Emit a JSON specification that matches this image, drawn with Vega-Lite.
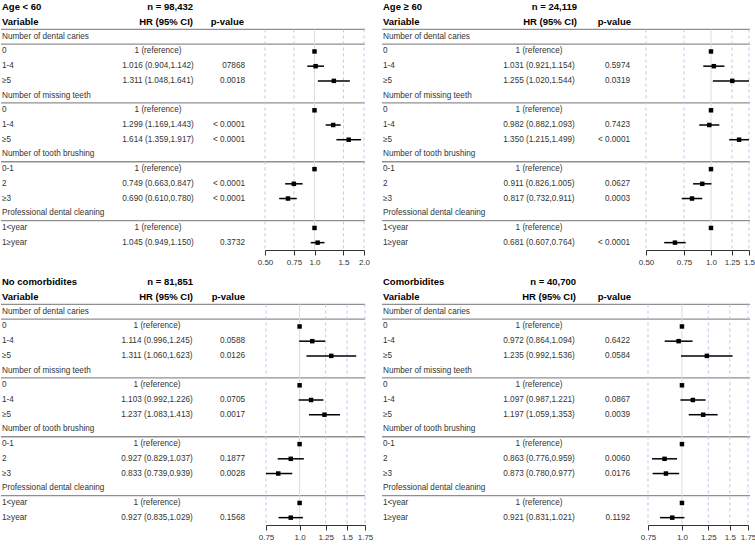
{
  "$schema": "https://vega.github.io/schema/vega-lite/v6.json",
  "padding": 0,
  "config": {"view": {"stroke": null}, "font": "Liberation Sans", "text": {"font": "Liberation Sans", "baseline": "middle"},
    "axis": {"grid": false, "domainColor": "#333", "tickColor": "#333", "tickSize": 5, "labelFontSize": 8, "labelColor": "#333", "labelPadding": 3, "title": null, "labelFlush": false, "labelOverlap": false, "labelFont": "Liberation Sans"}},
  "datasets": {
    "rows": [
      {"panel":"A","row":0,"kind":"title","label":"Age < 60","hr_head":"n = 98,432"},
      {"panel":"A","row":1,"kind":"header","label":"Variable","hr_head":"HR (95% CI)","p_text":"p-value"},
      {"panel":"A","row":2,"kind":"group","label":"Number of dental caries"},
      {"panel":"A","row":3,"kind":"ref","label":"0","hr_text":"1 (reference)","hr":1},
      {"panel":"A","row":4,"kind":"item","label":"1-4","hr_text":"1.016 (0.904,1.142)","p_text":"07868","hr":1.016,"lo":0.904,"hi":1.142},
      {"panel":"A","row":5,"kind":"item","label":"≥5","hr_text":"1.311 (1.048,1.641)","p_text":"0.0018","hr":1.311,"lo":1.048,"hi":1.641},
      {"panel":"A","row":6,"kind":"group","label":"Number of missing teeth"},
      {"panel":"A","row":7,"kind":"ref","label":"0","hr_text":"1 (reference)","hr":1},
      {"panel":"A","row":8,"kind":"item","label":"1-4","hr_text":"1.299 (1.169,1.443)","p_text":"< 0.0001","hr":1.299,"lo":1.169,"hi":1.443},
      {"panel":"A","row":9,"kind":"item","label":"≥5","hr_text":"1.614 (1.359,1.917)","p_text":"< 0.0001","hr":1.614,"lo":1.359,"hi":1.917},
      {"panel":"A","row":10,"kind":"group","label":"Number of tooth brushing"},
      {"panel":"A","row":11,"kind":"ref","label":"0-1","hr_text":"1 (reference)","hr":1},
      {"panel":"A","row":12,"kind":"item","label":"2","hr_text":"0.749 (0.663,0.847)","p_text":"< 0.0001","hr":0.749,"lo":0.663,"hi":0.847},
      {"panel":"A","row":13,"kind":"item","label":"≥3","hr_text":"0.690 (0.610,0.780)","p_text":"< 0.0001","hr":0.69,"lo":0.61,"hi":0.78},
      {"panel":"A","row":14,"kind":"group","label":"Professional dental cleaning"},
      {"panel":"A","row":15,"kind":"ref","label":"1<year","hr_text":"1 (reference)","hr":1},
      {"panel":"A","row":16,"kind":"item","label":"1≥year","hr_text":"1.045 (0.949,1.150)","p_text":"0.3732","hr":1.045,"lo":0.949,"hi":1.15},

      {"panel":"B","row":0,"kind":"title","label":"Age ≥ 60","hr_head":"n = 24,119"},
      {"panel":"B","row":1,"kind":"header","label":"Variable","hr_head":"HR (95% CI)","p_text":"p-value"},
      {"panel":"B","row":2,"kind":"group","label":"Number of dental caries"},
      {"panel":"B","row":3,"kind":"ref","label":"0","hr_text":"1 (reference)","hr":1},
      {"panel":"B","row":4,"kind":"item","label":"1-4","hr_text":"1.031 (0.921,1.154)","p_text":"0.5974","hr":1.031,"lo":0.921,"hi":1.154},
      {"panel":"B","row":5,"kind":"item","label":"≥5","hr_text":"1.255 (1.020,1.544)","p_text":"0.0319","hr":1.255,"lo":1.02,"hi":1.544},
      {"panel":"B","row":6,"kind":"group","label":"Number of missing teeth"},
      {"panel":"B","row":7,"kind":"ref","label":"0","hr_text":"1 (reference)","hr":1},
      {"panel":"B","row":8,"kind":"item","label":"1-4","hr_text":"0.982 (0.882,1.093)","p_text":"0.7423","hr":0.982,"lo":0.882,"hi":1.093},
      {"panel":"B","row":9,"kind":"item","label":"≥5","hr_text":"1.350 (1.215,1.499)","p_text":"< 0.0001","hr":1.35,"lo":1.215,"hi":1.499},
      {"panel":"B","row":10,"kind":"group","label":"Number of tooth brushing"},
      {"panel":"B","row":11,"kind":"ref","label":"0-1","hr_text":"1 (reference)","hr":1},
      {"panel":"B","row":12,"kind":"item","label":"2","hr_text":"0.911 (0.826,1.005)","p_text":"0.0627","hr":0.911,"lo":0.826,"hi":1.005},
      {"panel":"B","row":13,"kind":"item","label":"≥3","hr_text":"0.817 (0.732,0.911)","p_text":"0.0003","hr":0.817,"lo":0.732,"hi":0.911},
      {"panel":"B","row":14,"kind":"group","label":"Professional dental cleaning"},
      {"panel":"B","row":15,"kind":"ref","label":"1<year","hr_text":"1 (reference)","hr":1},
      {"panel":"B","row":16,"kind":"item","label":"1≥year","hr_text":"0.681 (0.607,0.764)","p_text":"< 0.0001","hr":0.681,"lo":0.607,"hi":0.764},

      {"panel":"C","row":0,"kind":"title","label":"No comorbidites","hr_head":"n = 81,851"},
      {"panel":"C","row":1,"kind":"header","label":"Variable","hr_head":"HR (95% CI)","p_text":"p-value"},
      {"panel":"C","row":2,"kind":"group","label":"Number of dental caries"},
      {"panel":"C","row":3,"kind":"ref","label":"0","hr_text":"1 (reference)","hr":1},
      {"panel":"C","row":4,"kind":"item","label":"1-4","hr_text":"1.114 (0.996,1.245)","p_text":"0.0588","hr":1.114,"lo":0.996,"hi":1.245},
      {"panel":"C","row":5,"kind":"item","label":"≥5","hr_text":"1.311 (1.060,1.623)","p_text":"0.0126","hr":1.311,"lo":1.06,"hi":1.623},
      {"panel":"C","row":6,"kind":"group","label":"Number of missing teeth"},
      {"panel":"C","row":7,"kind":"ref","label":"0","hr_text":"1 (reference)","hr":1},
      {"panel":"C","row":8,"kind":"item","label":"1-4","hr_text":"1.103 (0.992,1.226)","p_text":"0.0705","hr":1.103,"lo":0.992,"hi":1.226},
      {"panel":"C","row":9,"kind":"item","label":"≥5","hr_text":"1.237 (1.083,1.413)","p_text":"0.0017","hr":1.237,"lo":1.083,"hi":1.413},
      {"panel":"C","row":10,"kind":"group","label":"Number of tooth brushing"},
      {"panel":"C","row":11,"kind":"ref","label":"0-1","hr_text":"1 (reference)","hr":1},
      {"panel":"C","row":12,"kind":"item","label":"2","hr_text":"0.927 (0.829,1.037)","p_text":"0.1877","hr":0.927,"lo":0.829,"hi":1.037},
      {"panel":"C","row":13,"kind":"item","label":"≥3","hr_text":"0.833 (0.739,0.939)","p_text":"0.0028","hr":0.833,"lo":0.739,"hi":0.939},
      {"panel":"C","row":14,"kind":"group","label":"Professional dental cleaning"},
      {"panel":"C","row":15,"kind":"ref","label":"1<year","hr_text":"1 (reference)","hr":1},
      {"panel":"C","row":16,"kind":"item","label":"1≥year","hr_text":"0.927 (0.835,1.029)","p_text":"0.1568","hr":0.927,"lo":0.835,"hi":1.029},

      {"panel":"D","row":0,"kind":"title","label":"Comorbidites","hr_head":"n = 40,700"},
      {"panel":"D","row":1,"kind":"header","label":"Variable","hr_head":"HR (95% CI)","p_text":"p-value"},
      {"panel":"D","row":2,"kind":"group","label":"Number of dental caries"},
      {"panel":"D","row":3,"kind":"ref","label":"0","hr_text":"1 (reference)","hr":1},
      {"panel":"D","row":4,"kind":"item","label":"1-4","hr_text":"0.972 (0.864,1.094)","p_text":"0.6422","hr":0.972,"lo":0.864,"hi":1.094},
      {"panel":"D","row":5,"kind":"item","label":"≥5","hr_text":"1.235 (0.992,1.536)","p_text":"0.0584","hr":1.235,"lo":0.992,"hi":1.536},
      {"panel":"D","row":6,"kind":"group","label":"Number of missing teeth"},
      {"panel":"D","row":7,"kind":"ref","label":"0","hr_text":"1 (reference)","hr":1},
      {"panel":"D","row":8,"kind":"item","label":"1-4","hr_text":"1.097 (0.987,1.221)","p_text":"0.0867","hr":1.097,"lo":0.987,"hi":1.221},
      {"panel":"D","row":9,"kind":"item","label":"≥5","hr_text":"1.197 (1.059,1.353)","p_text":"0.0039","hr":1.197,"lo":1.059,"hi":1.353},
      {"panel":"D","row":10,"kind":"group","label":"Number of tooth brushing"},
      {"panel":"D","row":11,"kind":"ref","label":"0-1","hr_text":"1 (reference)","hr":1},
      {"panel":"D","row":12,"kind":"item","label":"2","hr_text":"0.863 (0.776,0.959)","p_text":"0.0060","hr":0.863,"lo":0.776,"hi":0.959},
      {"panel":"D","row":13,"kind":"item","label":"≥3","hr_text":"0.873 (0.780,0.977)","p_text":"0.0176","hr":0.873,"lo":0.78,"hi":0.977},
      {"panel":"D","row":14,"kind":"group","label":"Professional dental cleaning"},
      {"panel":"D","row":15,"kind":"ref","label":"1<year","hr_text":"1 (reference)","hr":1},
      {"panel":"D","row":16,"kind":"item","label":"1≥year","hr_text":"0.921 (0.831,1.021)","p_text":"0.1192","hr":0.921,"lo":0.831,"hi":1.021}
    ],
    "ticks": [
      {"panel":"A","tick":0.5},{"panel":"A","tick":0.75},{"panel":"A","tick":1},{"panel":"A","tick":1.5},{"panel":"A","tick":2},
      {"panel":"B","tick":0.5},{"panel":"B","tick":0.75},{"panel":"B","tick":1},{"panel":"B","tick":1.25},{"panel":"B","tick":1.5},
      {"panel":"C","tick":0.75},{"panel":"C","tick":1},{"panel":"C","tick":1.25},{"panel":"C","tick":1.5},{"panel":"C","tick":1.75},
      {"panel":"D","tick":0.75},{"panel":"D","tick":1},{"panel":"D","tick":1.25},{"panel":"D","tick":1.5},{"panel":"D","tick":1.75}
    ]
  },
  "columns": 2,
  "spacing": {"row": 25, "column": 17},
  "bounds": "flush",
  "concat": [
    {
      "width": 364, "height": 250,
      "data": {"name": "rows"},
      "transform": [{"filter": "datum.panel == 'A'"}],
      "encoding": {"y": {"field": "row", "type": "ordinal", "axis": null, "scale": {"type": "band", "paddingInner": 0, "paddingOuter": 0}}},
      "layer": [
        {"transform": [{"filter": "datum.kind == 'header' || datum.kind == 'group'"}],
         "mark": {"type": "rule", "color": "#8f8f8f", "strokeWidth": 1.3},
         "encoding": {"y": {"field": "row", "type": "ordinal", "bandPosition": 1}}},
        {"transform": [{"fold": ["label", "hr_head", "hr_text", "p_text"], "as": ["col", "txt"]}, {"filter": "isValid(datum.txt)"}],
         "layer": [
           {"transform": [{"filter": "datum.col == 'label' && (datum.kind == 'title' || datum.kind == 'header')"}],
            "mark": {"type": "text", "align": "left", "fontWeight": "bold", "fontSize": 9.5, "color": "#000"},
            "encoding": {"x": {"field": "col", "type": "nominal", "axis": null, "scale": {"type": "point", "domain": ["label"], "range": [1, 1]}}, "text": {"field": "txt"}}},
           {"transform": [{"filter": "datum.col != 'label' && (datum.kind == 'title' || datum.kind == 'header')"}],
            "mark": {"type": "text", "align": "right", "fontWeight": "bold", "fontSize": 9.5, "color": "#000"},
            "encoding": {"x": {"field": "col", "type": "nominal", "axis": null, "scale": {"type": "point", "domain": ["hr_head", "p_text"], "range": [192, 243], "padding": 0}}, "text": {"field": "txt"}}},
           {"transform": [{"filter": "datum.col == 'label' && datum.kind != 'title' && datum.kind != 'header'"}],
            "mark": {"type": "text", "align": "left", "fontSize": 8.2, "color": "#333"},
            "encoding": {"x": {"field": "col", "type": "nominal", "axis": null, "scale": {"type": "point", "domain": ["label"], "range": [1, 1]}}, "text": {"field": "txt"}}},
           {"transform": [{"filter": "datum.col == 'hr_text'"}],
            "mark": {"type": "text", "align": "center", "fontSize": 8.2, "color": "#333"},
            "encoding": {"x": {"field": "col", "type": "nominal", "axis": null, "scale": {"type": "point", "domain": ["hr_text"], "range": [157, 157]}}, "text": {"field": "txt"}}},
           {"transform": [{"filter": "datum.col == 'p_text' && datum.kind == 'item'"}],
            "mark": {"type": "text", "align": "right", "fontSize": 8.2, "color": "#333"},
            "encoding": {"x": {"field": "col", "type": "nominal", "axis": null, "scale": {"type": "point", "domain": ["p_text"], "range": [244, 244]}}, "text": {"field": "txt"}}}
         ],
         "resolve": {"scale": {"x": "independent"}}},
        {"layer": [
           {"data": {"name": "ticks"}, "transform": [{"filter": "datum.panel == 'A' && datum.tick != 1"}],
            "mark": {"type": "rule", "color": "#c4c4ee", "strokeDash": [3, 3], "strokeWidth": 1},
            "encoding": {
              "x": {"field": "tick", "type": "quantitative", "title": null,
                    "scale": {"type": "log", "domain": [0.5, 2], "range": [264, 363], "nice": false, "zero": false, "clamp": true},
                    "axis": {"values": [0.5, 0.75, 1, 1.5, 2], "labelExpr": "datum.value < 1 ? format(datum.value, '.2f') : ((datum.value * 4) % 2 == 0 ? format(datum.value, '.1f') : format(datum.value, '.2f'))"}},
              "y": {"datum": 2, "type": "ordinal", "bandPosition": 0},
              "y2": {"datum": 16, "bandPosition": 1}}},
           {"data": {"name": "ticks"}, "transform": [{"filter": "datum.panel == 'A' && datum.tick == 1"}],
            "mark": {"type": "rule", "color": "#dcdcdc", "strokeWidth": 1},
            "encoding": {"x": {"field": "tick", "type": "quantitative", "title": null},
              "y": {"datum": 2, "type": "ordinal", "bandPosition": 0},
              "y2": {"datum": 16, "bandPosition": 1}}},
           {"transform": [{"filter": "datum.kind == 'item'"}],
            "mark": {"type": "rule", "color": "#000", "strokeWidth": 1.5},
            "encoding": {"x": {"field": "lo", "type": "quantitative", "title": null}, "x2": {"field": "hi"}}},
           {"transform": [{"filter": "datum.kind == 'item' || datum.kind == 'ref'"}],
            "mark": {"type": "point", "shape": "square", "filled": true, "color": "#000", "opacity": 1, "size": 20},
            "encoding": {"x": {"field": "hr", "type": "quantitative", "title": null}}}
         ]}
      ],
      "resolve": {"scale": {"x": "independent"}}
    },
    {
      "width": 368, "height": 250,
      "data": {"name": "rows"},
      "transform": [{"filter": "datum.panel == 'B'"}],
      "encoding": {"y": {"field": "row", "type": "ordinal", "axis": null, "scale": {"type": "band", "paddingInner": 0, "paddingOuter": 0}}},
      "layer": [
        {"transform": [{"filter": "datum.kind == 'header' || datum.kind == 'group'"}],
         "mark": {"type": "rule", "color": "#8f8f8f", "strokeWidth": 1.3},
         "encoding": {"y": {"field": "row", "type": "ordinal", "bandPosition": 1}}},
        {"transform": [{"fold": ["label", "hr_head", "hr_text", "p_text"], "as": ["col", "txt"]}, {"filter": "isValid(datum.txt)"}],
         "layer": [
           {"transform": [{"filter": "datum.col == 'label' && (datum.kind == 'title' || datum.kind == 'header')"}],
            "mark": {"type": "text", "align": "left", "fontWeight": "bold", "fontSize": 9.5, "color": "#000"},
            "encoding": {"x": {"field": "col", "type": "nominal", "axis": null, "scale": {"type": "point", "domain": ["label"], "range": [1, 1]}}, "text": {"field": "txt"}}},
           {"transform": [{"filter": "datum.col != 'label' && (datum.kind == 'title' || datum.kind == 'header')"}],
            "mark": {"type": "text", "align": "right", "fontWeight": "bold", "fontSize": 9.5, "color": "#000"},
            "encoding": {"x": {"field": "col", "type": "nominal", "axis": null, "scale": {"type": "point", "domain": ["hr_head", "p_text"], "range": [195, 249], "padding": 0}}, "text": {"field": "txt"}}},
           {"transform": [{"filter": "datum.col == 'label' && datum.kind != 'title' && datum.kind != 'header'"}],
            "mark": {"type": "text", "align": "left", "fontSize": 8.2, "color": "#333"},
            "encoding": {"x": {"field": "col", "type": "nominal", "axis": null, "scale": {"type": "point", "domain": ["label"], "range": [1, 1]}}, "text": {"field": "txt"}}},
           {"transform": [{"filter": "datum.col == 'hr_text'"}],
            "mark": {"type": "text", "align": "center", "fontSize": 8.2, "color": "#333"},
            "encoding": {"x": {"field": "col", "type": "nominal", "axis": null, "scale": {"type": "point", "domain": ["hr_text"], "range": [157, 157]}}, "text": {"field": "txt"}}},
           {"transform": [{"filter": "datum.col == 'p_text' && datum.kind == 'item'"}],
            "mark": {"type": "text", "align": "right", "fontSize": 8.2, "color": "#333"},
            "encoding": {"x": {"field": "col", "type": "nominal", "axis": null, "scale": {"type": "point", "domain": ["p_text"], "range": [248, 248]}}, "text": {"field": "txt"}}}
         ],
         "resolve": {"scale": {"x": "independent"}}},
        {"layer": [
           {"data": {"name": "ticks"}, "transform": [{"filter": "datum.panel == 'B' && datum.tick != 1"}],
            "mark": {"type": "rule", "color": "#c4c4ee", "strokeDash": [3, 3], "strokeWidth": 1},
            "encoding": {
              "x": {"field": "tick", "type": "quantitative", "title": null,
                    "scale": {"type": "log", "domain": [0.5, 1.5], "range": [264, 367], "nice": false, "zero": false, "clamp": true},
                    "axis": {"values": [0.5, 0.75, 1, 1.25, 1.5], "labelExpr": "datum.value < 1 ? format(datum.value, '.2f') : ((datum.value * 4) % 2 == 0 ? format(datum.value, '.1f') : format(datum.value, '.2f'))"}},
              "y": {"datum": 2, "type": "ordinal", "bandPosition": 0},
              "y2": {"datum": 16, "bandPosition": 1}}},
           {"data": {"name": "ticks"}, "transform": [{"filter": "datum.panel == 'B' && datum.tick == 1"}],
            "mark": {"type": "rule", "color": "#dcdcdc", "strokeWidth": 1},
            "encoding": {"x": {"field": "tick", "type": "quantitative", "title": null},
              "y": {"datum": 2, "type": "ordinal", "bandPosition": 0},
              "y2": {"datum": 16, "bandPosition": 1}}},
           {"transform": [{"filter": "datum.kind == 'item'"}],
            "mark": {"type": "rule", "color": "#000", "strokeWidth": 1.5},
            "encoding": {"x": {"field": "lo", "type": "quantitative", "title": null}, "x2": {"field": "hi"}}},
           {"transform": [{"filter": "datum.kind == 'item' || datum.kind == 'ref'"}],
            "mark": {"type": "point", "shape": "square", "filled": true, "color": "#000", "opacity": 1, "size": 20},
            "encoding": {"x": {"field": "hr", "type": "quantitative", "title": null}}}
         ]}
      ],
      "resolve": {"scale": {"x": "independent"}}
    },
    {
      "width": 364, "height": 250,
      "data": {"name": "rows"},
      "transform": [{"filter": "datum.panel == 'C'"}],
      "encoding": {"y": {"field": "row", "type": "ordinal", "axis": null, "scale": {"type": "band", "paddingInner": 0, "paddingOuter": 0}}},
      "layer": [
        {"transform": [{"filter": "datum.kind == 'header' || datum.kind == 'group'"}],
         "mark": {"type": "rule", "color": "#8f8f8f", "strokeWidth": 1.3},
         "encoding": {"y": {"field": "row", "type": "ordinal", "bandPosition": 1}}},
        {"transform": [{"fold": ["label", "hr_head", "hr_text", "p_text"], "as": ["col", "txt"]}, {"filter": "isValid(datum.txt)"}],
         "layer": [
           {"transform": [{"filter": "datum.col == 'label' && (datum.kind == 'title' || datum.kind == 'header')"}],
            "mark": {"type": "text", "align": "left", "fontWeight": "bold", "fontSize": 9.5, "color": "#000"},
            "encoding": {"x": {"field": "col", "type": "nominal", "axis": null, "scale": {"type": "point", "domain": ["label"], "range": [1, 1]}}, "text": {"field": "txt"}}},
           {"transform": [{"filter": "datum.col != 'label' && (datum.kind == 'title' || datum.kind == 'header')"}],
            "mark": {"type": "text", "align": "right", "fontWeight": "bold", "fontSize": 9.5, "color": "#000"},
            "encoding": {"x": {"field": "col", "type": "nominal", "axis": null, "scale": {"type": "point", "domain": ["hr_head", "p_text"], "range": [192, 244], "padding": 0}}, "text": {"field": "txt"}}},
           {"transform": [{"filter": "datum.col == 'label' && datum.kind != 'title' && datum.kind != 'header'"}],
            "mark": {"type": "text", "align": "left", "fontSize": 8.2, "color": "#333"},
            "encoding": {"x": {"field": "col", "type": "nominal", "axis": null, "scale": {"type": "point", "domain": ["label"], "range": [1, 1]}}, "text": {"field": "txt"}}},
           {"transform": [{"filter": "datum.col == 'hr_text'"}],
            "mark": {"type": "text", "align": "center", "fontSize": 8.2, "color": "#333"},
            "encoding": {"x": {"field": "col", "type": "nominal", "axis": null, "scale": {"type": "point", "domain": ["hr_text"], "range": [156, 156]}}, "text": {"field": "txt"}}},
           {"transform": [{"filter": "datum.col == 'p_text' && datum.kind == 'item'"}],
            "mark": {"type": "text", "align": "right", "fontSize": 8.2, "color": "#333"},
            "encoding": {"x": {"field": "col", "type": "nominal", "axis": null, "scale": {"type": "point", "domain": ["p_text"], "range": [244, 244]}}, "text": {"field": "txt"}}}
         ],
         "resolve": {"scale": {"x": "independent"}}},
        {"layer": [
           {"data": {"name": "ticks"}, "transform": [{"filter": "datum.panel == 'C' && datum.tick != 1"}],
            "mark": {"type": "rule", "color": "#c4c4ee", "strokeDash": [3, 3], "strokeWidth": 1},
            "encoding": {
              "x": {"field": "tick", "type": "quantitative", "title": null,
                    "scale": {"type": "log", "domain": [0.75, 1.75], "range": [265, 364], "nice": false, "zero": false, "clamp": true},
                    "axis": {"values": [0.75, 1, 1.25, 1.5, 1.75], "labelExpr": "datum.value < 1 ? format(datum.value, '.2f') : ((datum.value * 4) % 2 == 0 ? format(datum.value, '.1f') : format(datum.value, '.2f'))"}},
              "y": {"datum": 2, "type": "ordinal", "bandPosition": 0},
              "y2": {"datum": 16, "bandPosition": 1}}},
           {"data": {"name": "ticks"}, "transform": [{"filter": "datum.panel == 'C' && datum.tick == 1"}],
            "mark": {"type": "rule", "color": "#dcdcdc", "strokeWidth": 1},
            "encoding": {"x": {"field": "tick", "type": "quantitative", "title": null},
              "y": {"datum": 2, "type": "ordinal", "bandPosition": 0},
              "y2": {"datum": 16, "bandPosition": 1}}},
           {"transform": [{"filter": "datum.kind == 'item'"}],
            "mark": {"type": "rule", "color": "#000", "strokeWidth": 1.5},
            "encoding": {"x": {"field": "lo", "type": "quantitative", "title": null}, "x2": {"field": "hi"}}},
           {"transform": [{"filter": "datum.kind == 'item' || datum.kind == 'ref'"}],
            "mark": {"type": "point", "shape": "square", "filled": true, "color": "#000", "opacity": 1, "size": 20},
            "encoding": {"x": {"field": "hr", "type": "quantitative", "title": null}}}
         ]}
      ],
      "resolve": {"scale": {"x": "independent"}}
    },
    {
      "width": 368, "height": 250,
      "data": {"name": "rows"},
      "transform": [{"filter": "datum.panel == 'D'"}],
      "encoding": {"y": {"field": "row", "type": "ordinal", "axis": null, "scale": {"type": "band", "paddingInner": 0, "paddingOuter": 0}}},
      "layer": [
        {"transform": [{"filter": "datum.kind == 'header' || datum.kind == 'group'"}],
         "mark": {"type": "rule", "color": "#8f8f8f", "strokeWidth": 1.3},
         "encoding": {"y": {"field": "row", "type": "ordinal", "bandPosition": 1}}},
        {"transform": [{"fold": ["label", "hr_head", "hr_text", "p_text"], "as": ["col", "txt"]}, {"filter": "isValid(datum.txt)"}],
         "layer": [
           {"transform": [{"filter": "datum.col == 'label' && (datum.kind == 'title' || datum.kind == 'header')"}],
            "mark": {"type": "text", "align": "left", "fontWeight": "bold", "fontSize": 9.5, "color": "#000"},
            "encoding": {"x": {"field": "col", "type": "nominal", "axis": null, "scale": {"type": "point", "domain": ["label"], "range": [1, 1]}}, "text": {"field": "txt"}}},
           {"transform": [{"filter": "datum.col != 'label' && (datum.kind == 'title' || datum.kind == 'header')"}],
            "mark": {"type": "text", "align": "right", "fontWeight": "bold", "fontSize": 9.5, "color": "#000"},
            "encoding": {"x": {"field": "col", "type": "nominal", "axis": null, "scale": {"type": "point", "domain": ["hr_head", "p_text"], "range": [194, 249], "padding": 0}}, "text": {"field": "txt"}}},
           {"transform": [{"filter": "datum.col == 'label' && datum.kind != 'title' && datum.kind != 'header'"}],
            "mark": {"type": "text", "align": "left", "fontSize": 8.2, "color": "#333"},
            "encoding": {"x": {"field": "col", "type": "nominal", "axis": null, "scale": {"type": "point", "domain": ["label"], "range": [1, 1]}}, "text": {"field": "txt"}}},
           {"transform": [{"filter": "datum.col == 'hr_text'"}],
            "mark": {"type": "text", "align": "center", "fontSize": 8.2, "color": "#333"},
            "encoding": {"x": {"field": "col", "type": "nominal", "axis": null, "scale": {"type": "point", "domain": ["hr_text"], "range": [157, 157]}}, "text": {"field": "txt"}}},
           {"transform": [{"filter": "datum.col == 'p_text' && datum.kind == 'item'"}],
            "mark": {"type": "text", "align": "right", "fontSize": 8.2, "color": "#333"},
            "encoding": {"x": {"field": "col", "type": "nominal", "axis": null, "scale": {"type": "point", "domain": ["p_text"], "range": [248, 248]}}, "text": {"field": "txt"}}}
         ],
         "resolve": {"scale": {"x": "independent"}}},
        {"layer": [
           {"data": {"name": "ticks"}, "transform": [{"filter": "datum.panel == 'D' && datum.tick != 1"}],
            "mark": {"type": "rule", "color": "#c4c4ee", "strokeDash": [3, 3], "strokeWidth": 1},
            "encoding": {
              "x": {"field": "tick", "type": "quantitative", "title": null,
                    "scale": {"type": "log", "domain": [0.75, 1.75], "range": [266, 366], "nice": false, "zero": false, "clamp": true},
                    "axis": {"values": [0.75, 1, 1.25, 1.5, 1.75], "labelExpr": "datum.value < 1 ? format(datum.value, '.2f') : ((datum.value * 4) % 2 == 0 ? format(datum.value, '.1f') : format(datum.value, '.2f'))"}},
              "y": {"datum": 2, "type": "ordinal", "bandPosition": 0},
              "y2": {"datum": 16, "bandPosition": 1}}},
           {"data": {"name": "ticks"}, "transform": [{"filter": "datum.panel == 'D' && datum.tick == 1"}],
            "mark": {"type": "rule", "color": "#dcdcdc", "strokeWidth": 1},
            "encoding": {"x": {"field": "tick", "type": "quantitative", "title": null},
              "y": {"datum": 2, "type": "ordinal", "bandPosition": 0},
              "y2": {"datum": 16, "bandPosition": 1}}},
           {"transform": [{"filter": "datum.kind == 'item'"}],
            "mark": {"type": "rule", "color": "#000", "strokeWidth": 1.5},
            "encoding": {"x": {"field": "lo", "type": "quantitative", "title": null}, "x2": {"field": "hi"}}},
           {"transform": [{"filter": "datum.kind == 'item' || datum.kind == 'ref'"}],
            "mark": {"type": "point", "shape": "square", "filled": true, "color": "#000", "opacity": 1, "size": 20},
            "encoding": {"x": {"field": "hr", "type": "quantitative", "title": null}}}
         ]}
      ],
      "resolve": {"scale": {"x": "independent"}}
    }
  ]
}
